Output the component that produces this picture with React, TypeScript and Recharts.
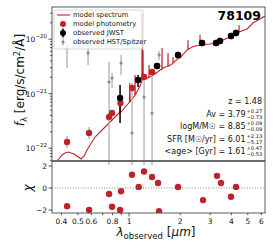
import { ComposedChart, Line, Scatter, XAxis, YAxis, ErrorBar, ReferenceLine } from 'recharts'

// wavelength in micron, flux in units of 1e-21 erg/s/cm2/A
const specWave = [0.377, 0.382, 0.4035, 0.42, 0.438, 0.456, 0.475, 0.494, 0.522, 0.5435, 0.566, 0.59, 0.631, 0.694, 0.763, 0.827, 0.873, 0.883, 0.8853, 0.888, 0.897, 0.947, 0.984, 1.005, 1.01, 1.015, 1.056, 1.082, 1.0846, 1.087, 1.16, 1.19, 1.1925, 1.195, 1.205, 1.2088, 1.212, 1.242, 1.308, 1.311, 1.314, 1.329, 1.422, 1.522, 1.56, 1.5636, 1.567, 1.585, 1.692, 1.6958, 1.699, 1.719, 1.811, 1.8148, 1.818, 1.94, 1.995, 2.194, 2.22, 2.2237, 2.228, 2.348, 2.445, 2.612, 2.6159, 2.62, 2.996, 3.294, 3.572, 3.928, 4.26, 4.43, 4.437, 4.445, 4.945, 5.362, 5.896, 6.31]
const specFlux = [0.0558, 0.0607, 0.075, 0.0816, 0.0852, 0.0816, 0.0782, 0.0719, 0.0634, 0.0719, 0.0927, 0.1145, 0.1605, 0.2158, 0.29, 0.3737, 0.4425, 0.455, 0.946, 0.46, 0.4615, 0.57, 0.647, 0.7, 1.55, 0.72, 0.834, 0.93, 2.203, 0.95, 1.385, 1.7, 30.25, 1.78, 1.83, 6.3, 1.86, 1.861, 1.98, 3.363, 2.0, 2.025, 2.299, 2.722, 2.8, 6.895, 2.85, 2.962, 3.2, 5.582, 3.25, 3.223, 3.6, 4.714, 3.65, 4.45, 4.519, 6.337, 6.4, 9.667, 6.45, 7.193, 7.503, 7.75, 11.94, 7.8, 8.166, 8.518, 9.667, 10.97, 12.99, 13.4, 18.22, 13.6, 15.39, 19.83, 23.48, 26.66]

const hstWave = [0.4318, 0.4318, 0.574, 0.5818, 0.7627, 0.7943, 0.8974, 1.0414, 1.2253, 1.3656, 1.5014]
const hstFlux = [6.895, 0.13, 5.582, 0.19, 1.639, 1.941, 3.659, 0.19, 0.87, 0.4425, 5.13]
const hstLow = [2.962, 0.1008, 3.363, 0.1475, 0.01, 1.272, 2.203, 0.01, 0.01, 0.01, 4.153]
const hstHigh = [8.166, 0.1675, 8.518, 0.245, 3.817, 2.398, 5.13, 1.571, 1.784, 2.502, 6.074]

const jwstWave = [0.8853, 1.1296, 1.4612, 1.9423, 2.688, 3.2497, 3.4298, 3.981, 4.2603]
const jwstFlux = [0.834, 1.784, 3.223, 5.13, 8.518, 8.518, 9.268, 11.45, 12.99]
const jwstLow = [0.29, 1.327, 3.0, 4.9, 8.2, 8.2, 8.9, 11.0, 12.5]
const jwstHigh = [1.444, 2.203, 3.45, 5.35, 8.85, 8.85, 9.65, 11.9, 13.5]

const modelWave = [0.4318, 0.5818, 0.7627, 0.7943, 0.89, 1.0414, 1.1296, 1.2253, 1.3656, 1.4612, 1.9423, 2.688, 3.2497, 3.4298, 3.981, 4.2603]
const modelFlux = [0.13, 0.19, 0.3737, 0.4425, 0.675, 1.272, 1.784, 2.025, 2.502, 3.223, 5.13, 8.518, 8.518, 9.268, 11.45, 12.99]

const chiWave = [0.4318, 0.5818, 0.7627, 0.7943, 0.8853, 0.8974, 1.0414, 1.14, 1.2253, 1.3656, 1.4812, 1.5014, 1.9423, 2.7247, 3.294, 3.4768, 3.981, 4.2603]
const chiVal = [-1.65, -2.0, -0.55, -1.7, -2.0, -0.3, 1.2, 0.1, 1.5, 1.0, 0.45, -2.1, 0.1, -1.1, 1.1, 0.45, -0.8, 0.1]

const yMajor = [0.1, 1, 10]
const yMajorLabels = ['−22', '−21', '−20']
const yMinor = [0.06, 0.07, 0.08, 0.09, 0.2, 0.3, 0.4, 0.5, 0.6, 0.7, 0.8, 0.9, 2, 3, 4, 5, 6, 7, 8, 9, 20, 30]
const xTicks = [0.4, 0.5, 0.6, 0.7, 0.8, 0.9, 1, 2, 3, 4, 5, 6]
const xTickLabels = ['0.4', '0.5', '0.6', '', '0.8', '', '1', '2', '3', '4', '5', '6']
const chiTicks = [-2, 0, 2]
const chiTickLabels = ['−2', '0', '2']

const stats = [
  { name: 'z = 1.48', up: '', lo: '' },
  { name: 'Av = 3.79', up: '+0.27', lo: '−0.73' },
  { name: 'logM/M☉ = 8.85', up: '+0.09', lo: '−0.09' },
  { name: 'SFR [M☉/yr] = 6.01', up: '+2.13', lo: '−5.17' },
  { name: '<age> [Gyr] = 1.61', up: '+0.47', lo: '−0.53' },
]

const RED = '#c0222b'
const FONT = 'DejaVu Sans'
const xDomain = [0.352, 6.31]
const yDomain = [0.0582, 39]

const spec = specWave.map((w, i) => ({ w, f: specFlux[i] }))
const hst = hstWave.map((w, i) => ({ w, f: hstFlux[i], e: [hstFlux[i] - hstLow[i], hstHigh[i] - hstFlux[i]] }))
const jwst = jwstWave.map((w, i) => ({ w, f: jwstFlux[i], e: [jwstFlux[i] - jwstLow[i], jwstHigh[i] - jwstFlux[i]] }))
const model = modelWave.map((w, i) => ({ w, f: modelFlux[i] }))
const chi = chiWave.map((w, i) => ({ w, c: chiVal[i] }))

const TopYTick = (props: any) => {
  const { x, y, payload } = props
  const idx = yMajor.indexOf(payload.value)
  const major = idx >= 0
  return (
    <g>
      <line x1={x} x2={x - (major ? 3.5 : 2)} y1={y} y2={y} stroke="#222" strokeWidth={0.8} />
      {major && (
        <text x={x - 5} y={y + 3} textAnchor="end" fontSize={7.5} fill="#111" fontFamily={FONT}>
          <tspan>10</tspan>
          <tspan dy={-4} fontSize={5.5}>{yMajorLabels[idx]}</tspan>
        </text>
      )}
    </g>
  )
}

const ChiYTick = (props: any) => {
  const { x, y, payload } = props
  const idx = chiTicks.indexOf(payload.value)
  return (
    <g>
      <line x1={x} x2={x - 3.5} y1={y} y2={y} stroke="#222" strokeWidth={0.8} />
      <text x={x - 5} y={y + 2.7} textAnchor="end" fontSize={7.5} fill="#111" fontFamily={FONT}>
        {chiTickLabels[idx]}
      </text>
    </g>
  )
}

const XTick = (props: any) => {
  const { x, y, payload } = props
  const idx = xTicks.indexOf(payload.value)
  const major = payload.value === 1
  return (
    <g>
      <line x1={x} x2={x} y1={y} y2={y + (major ? 3.5 : 2.2)} stroke="#222" strokeWidth={0.8} />
      <text x={x} y={y + 11} textAnchor="middle" fontSize={7.5} fill="#111" fontFamily={FONT}>
        {xTickLabels[idx]}
      </text>
    </g>
  )
}

const dot = (r: number, fill: string) => (p: any) => <circle cx={p.cx} cy={p.cy} r={r} fill={fill} />

export default function App() {
  return (
    <div style={{ position: 'absolute', left: 0, top: 0, width: 274, height: 249, background: '#fff' }}>
      <div style={{ position: 'absolute', left: 0, top: 0 }}>
        <ComposedChart width={274} height={165} margin={{ top: 7, right: 9, bottom: 4, left: 51 }}>
          <XAxis dataKey="w" type="number" scale="log" domain={xDomain} allowDataOverflow hide />
          <YAxis
            type="number"
            scale="log"
            domain={yDomain}
            allowDataOverflow
            width={1}
            ticks={[...yMajor, ...yMinor]}
            tick={<TopYTick />}
            tickLine={false}
            axisLine={false}
            tickSize={0}
            tickMargin={0}
            interval={0}
          />
          <Line data={spec} dataKey="f" stroke={RED} strokeWidth={1.1} dot={false} isAnimationActive={false} />
          <Scatter data={hst} dataKey="f" shape={dot(1.6, '#8a8a8a')} isAnimationActive={false}>
            <ErrorBar dataKey="e" direction="y" width={0} stroke="#b5b5b5" strokeWidth={1.4} />
          </Scatter>
          <Scatter data={model} dataKey="f" shape={dot(3.2, RED)} isAnimationActive={false} />
          <Scatter data={jwst} dataKey="f" shape={dot(3.2, '#000')} isAnimationActive={false}>
            <ErrorBar dataKey="e" direction="y" width={0} stroke="#000" strokeWidth={1.5} />
          </Scatter>
        </ComposedChart>
      </div>
      <div style={{ position: 'absolute', left: 0, top: 0 }}>
        <ComposedChart width={274} height={249} margin={{ top: 161, right: 9, bottom: 35, left: 51 }}>
          <XAxis
            dataKey="w"
            type="number"
            scale="log"
            domain={xDomain}
            allowDataOverflow
            height={1}
            ticks={xTicks}
            tick={<XTick />}
            tickLine={false}
            axisLine={false}
            tickSize={0}
            tickMargin={0}
            interval={0}
          />
          <YAxis
            type="number"
            domain={[-2.27, 2.45]}
            allowDataOverflow
            width={1}
            ticks={chiTicks}
            tick={<ChiYTick />}
            tickLine={false}
            axisLine={false}
            tickSize={0}
            tickMargin={0}
            interval={0}
          />
          <ReferenceLine y={0} stroke="#777" strokeDasharray="1 1.6" strokeWidth={0.9} />
          <Scatter data={chi} dataKey="c" shape={dot(3.2, RED)} isAnimationActive={false} />
        </ComposedChart>
      </div>
      <svg width={274} height={249} style={{ position: 'absolute', left: 0, top: 0, pointerEvents: 'none' }} fontFamily={FONT}>
        <rect x={52} y={7} width={213} height={154} fill="none" stroke="#333" strokeWidth={0.8} />
        <rect x={52} y={161} width={213} height={52} fill="none" stroke="#333" strokeWidth={0.8} />
        <line x1={52} x2={265} y1={161} y2={161} stroke="#666" strokeWidth={1.6} />
        {/* legend */}
        <rect x={54} y={10} width={89} height={39} rx={2} fill="#fff" fillOpacity={0.8} stroke="#ccc" strokeWidth={0.8} />
        <line x1={57} x2={70} y1={15} y2={15} stroke={RED} strokeWidth={1.1} />
        <circle cx={63} cy={24} r={3} fill={RED} />
        <line x1={63} x2={63} y1={28.5} y2={37.5} stroke="#000" strokeWidth={1.5} />
        <circle cx={63} cy={33} r={3} fill="#000" />
        <line x1={63} x2={63} y1={38.5} y2={45.5} stroke="#b5b5b5" strokeWidth={1.4} />
        <circle cx={63} cy={42} r={1.6} fill="#8a8a8a" />
        <g fontSize={6.8} fill="#111">
          <text x={73} y={17.4}>model spectrum</text>
          <text x={73} y={26.4}>model photometry</text>
          <text x={73} y={35.4}>observed JWST</text>
          <text x={73} y={44.4}>observed HST/Spitzer</text>
        </g>
        {/* id */}
        <text x={261} y={19.5} textAnchor="end" fontSize={12.5} fontWeight="bold" fill="#000">78109</text>
        {/* stats */}
        {stats.map((s, i) => {
          const y = 104 + i * 12.6
          const endX = s.up ? 245.5 : 262
          return (
            <g key={s.name} fill="#111">
              <text x={endX} y={y} textAnchor="end" fontSize={8}>{s.name}</text>
              {s.up && (
                <>
                  <text x={246.5} y={y - 4} fontSize={5.2}>{s.up}</text>
                  <text x={246.5} y={y + 2} fontSize={5.2}>{s.lo}</text>
                </>
              )}
            </g>
          )
        })}
        {/* axis titles */}
        <text transform="translate(24,80) rotate(-90)" textAnchor="middle" fontSize={12} fill="#111">
          <tspan fontStyle="italic">f</tspan>
          <tspan fontSize={8.5} dy={2.5}>λ</tspan>
          <tspan dy={-2.5}> [erg/s/cm</tspan>
          <tspan fontSize={8.5} dy={-4.5}>2</tspan>
          <tspan dy={4.5}>/Å]</tspan>
        </text>
        <text transform="translate(32,188) rotate(-90)" textAnchor="middle" fontSize={12} fontStyle="italic" fill="#111">χ</text>
        <text x={156} y={236} textAnchor="middle" fontSize={12} fill="#111">
          <tspan fontStyle="italic">λ</tspan>
          <tspan fontSize={8.5} dy={2.5}>observed</tspan>
          <tspan dy={-2.5}> [</tspan>
          <tspan fontStyle="italic">μm</tspan>
          <tspan>]</tspan>
        </text>
      </svg>
    </div>
  )
}
